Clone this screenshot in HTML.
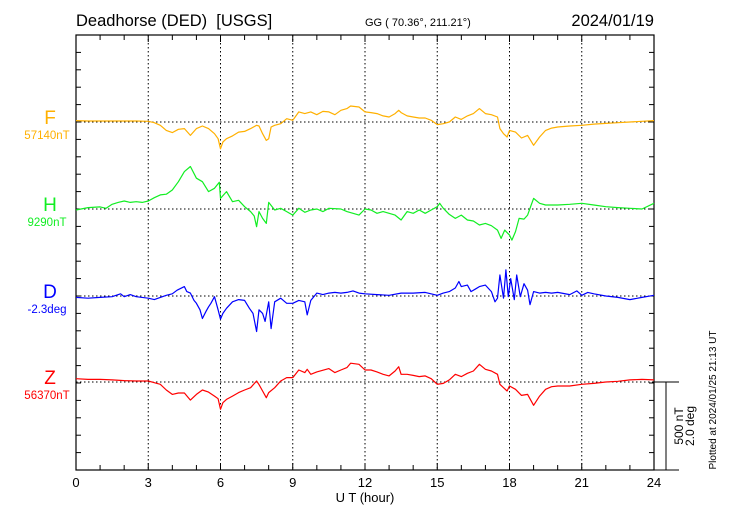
<!DOCTYPE html>
<html><head><meta charset="utf-8"><style>
body{margin:0;background:#fff}
svg{display:block;font-family:"Liberation Sans",sans-serif}
</style></head><body>
<svg id="chart" width="730" height="520"></svg>
<script>
const fT=[0,0.5,1,1.5,2,2.5,3,3.25,3.5,3.75,4,4.25,4.5,4.75,5,5.25,5.5,5.75,5.9,6,6.1,6.25,6.5,6.75,7,7.25,7.5,7.6,7.75,7.9,8,8.1,8.25,8.5,8.75,9,9.25,9.5,9.75,10,10.25,10.5,10.75,11,11.25,11.4,11.75,12,12.25,12.5,12.75,13,13.25,13.4,13.5,13.75,14,14.25,14.5,14.75,15,15.25,15.5,15.75,16,16.25,16.5,16.75,17,17.25,17.5,17.6,17.75,17.9,18,18.25,18.5,18.75,19,19.25,19.5,19.75,20,20.5,21,21.5,22,22.5,23,23.5,24];
const fV=[8,6,6,6,6,6,4,-4,-19,-48,-61,-42,-38,-77,-38,-23,-38,-67,-96,-154,-115,-96,-80,-58,-54,-38,-19,-23,-67,-106,-96,-29,-19,-10,19,10,58,48,58,42,61,58,42,67,77,92,86,58,54,48,35,29,48,67,54,35,29,23,23,10,-15,-10,0,29,15,35,48,77,48,42,29,-38,-67,-86,-48,-58,-92,-77,-134,-86,-48,-35,-29,-23,-19,-12,-8,-4,0,4,8];
const hT=[0,0.5,1,1.25,1.5,1.75,2,2.25,2.5,2.75,3,3.25,3.5,3.75,4,4.25,4.5,4.75,5,5.25,5.5,5.75,5.95,6,6.25,6.5,6.75,7,7.25,7.4,7.5,7.6,7.75,7.9,8,8.25,8.5,8.75,9,9.25,9.5,9.75,10,10.25,10.5,11,11.25,11.5,11.75,12,12.25,12.5,12.75,13,13.25,13.5,13.75,14,14.25,14.5,14.75,15,15.1,15.25,15.5,15.75,16,16.25,16.5,16.75,17,17.25,17.5,17.65,17.8,18,18.1,18.25,18.4,18.6,18.75,18.9,19,19.25,19.5,20,20.5,21,21.5,22,22.5,23,23.5,24];
const hV=[-6,8,12,4,27,38,46,38,42,38,46,65,81,85,109,157,215,244,177,157,100,119,154,61,100,42,50,13,-15,-40,-102,-15,-54,-83,38,-6,4,-15,-35,4,-19,-6,0,-15,4,0,-15,-25,-35,0,-6,-25,-15,-25,-35,-63,-15,-25,-6,-25,-6,13,33,4,-31,-54,-35,-63,-69,-92,-83,-96,-121,-169,-121,-150,-179,-130,-54,-58,-35,23,61,33,23,23,27,33,23,13,8,4,0,33];
const dT=[0,0.5,1,1.5,1.85,2,2.25,2.5,3,3.25,3.5,3.75,4,4.2,4.5,4.6,4.75,4.9,5,5.15,5.25,5.4,5.5,5.6,5.75,5.9,6,6.1,6.25,6.5,6.75,7,7.2,7.35,7.5,7.6,7.75,7.85,8,8.1,8.25,8.5,8.75,9,9.25,9.5,9.6,9.75,10,10.25,10.5,10.75,11,11.25,11.5,11.75,12,12.5,13,13.5,14,14.5,15,15.25,15.5,15.75,15.9,16,16.25,16.4,16.6,16.75,17,17.25,17.4,17.5,17.6,17.75,17.85,17.95,18.05,18.2,18.3,18.45,18.6,18.75,18.85,19,19.25,19.5,19.75,20,20.5,20.8,21,21.25,21.5,22,22.5,23,23.5,24];
const dV=[-2,-3,-2,-1,3,-1,2,-1,-3,-5,-2,1,3,8,13,6,4,-6,-10,-19,-31,-21,-15,-10,-1,-19,-32,-24,-17,-8,-5,-6,-17,-24,-49,-19,-24,-35,-8,-45,-8,-3,-10,-10,-6,-8,-26,-6,4,2,4,5,4,5,7,4,3,2,1,4,4,5,1,4,6,11,20,13,15,6,10,13,15,6,-8,-3,29,-3,36,-1,24,-5,29,-1,17,8,-12,6,4,5,4,5,2,7,1,5,3,0,-2,-5,-2,1];
const zT=[0,0.5,1,1.5,2,2.5,3,3.25,3.5,3.75,4,4.25,4.5,4.75,5,5.25,5.5,5.75,5.9,6,6.1,6.25,6.5,6.75,7,7.25,7.5,7.6,7.75,7.9,8,8.25,8.5,8.75,9,9.25,9.5,9.6,9.75,10,10.5,10.75,11,11.25,11.4,11.75,12,12.25,12.5,12.75,13,13.25,13.4,13.5,13.75,14,14.25,14.5,14.75,15,15.25,15.5,15.75,16,16.25,16.5,16.75,17,17.25,17.5,17.6,17.75,17.9,18,18.25,18.5,18.75,19,19.25,19.5,19.75,20,20.5,21,21.5,22,22.5,23,23.5,24];
const zV=[19,15,15,12,8,6,6,-4,-13,-46,-71,-63,-63,-104,-71,-46,-58,-81,-96,-157,-119,-100,-81,-61,-46,-33,6,-15,-52,-90,-61,-33,6,25,25,69,54,73,44,58,77,54,69,83,108,102,69,69,58,44,35,63,88,44,44,38,31,35,19,-13,-8,12,44,31,50,63,102,73,63,44,-13,-33,-52,-23,-42,-77,-71,-134,-81,-42,-27,-23,-23,-13,-8,0,4,12,15,12];
const xTicks=[0,3,6,9,12,15,18,21,24];

const svg=document.getElementById('chart');
const NS='http://www.w3.org/2000/svg';
const L=76,R=654,T=35,B=470;
const pxPerNT=87/500, pxPerMin=87/120;
const X=h=>L+(R-L)*h/24;
function mk(tag,attrs,parent){const e=document.createElementNS(NS,tag);for(const k in attrs)e.setAttribute(k,attrs[k]);(parent||svg).appendChild(e);return e;}
function txt(s,attrs){const e=mk('text',attrs);e.textContent=s;return e;}

xTicks.slice(1,-1).forEach(h=>{
  const g=mk('line',{x1:X(h),x2:X(h),y1:T,y2:B,stroke:'#000','stroke-width':1,'stroke-dasharray':'1.5,2.5'});
  
  
});
const bases=[{n:'F',y:122,c:'#ffb000',lab:'57140nT',t:fT,v:fV,s:pxPerNT},
 {n:'H',y:209,c:'#11ee22',lab:'9290nT',t:hT,v:hV,s:pxPerNT},
 {n:'D',y:296,c:'#0000ff',lab:'-2.3deg',t:dT,v:dV,s:pxPerMin},
 {n:'Z',y:382,c:'#ff0000',lab:'56370nT',t:zT,v:zV,s:pxPerNT}];
bases.forEach(b=>{
  const g=mk('line',{x1:L,x2:R,y1:b.y,y2:b.y,stroke:'#000','stroke-width':1,'stroke-dasharray':'1.5,2.5'});
  
  
});
const box=mk('rect',{x:L,y:T,width:R-L,height:B-T,fill:'none',stroke:'#000','stroke-width':1.2});


for(let h=0;h<=24;h++){
  const len=h%3===0?7:5;
  mk('line',{x1:X(h),x2:X(h),y1:T,y2:T+len,stroke:'#000'});
  mk('line',{x1:X(h),x2:X(h),y1:B,y2:B-len,stroke:'#000'});
}
for(let y=T;y<=B+1;y+=(B-T)/25){
  mk('line',{x1:L,x2:L+5,y1:y,y2:y,stroke:'#000'});
  mk('line',{x1:R,x2:R-5,y1:y,y2:y,stroke:'#000'});
}
xTicks.forEach(h=>{
  const t=txt(String(h),{x:X(h),y:487,'font-size':13,'text-anchor':'middle'});
  
  
});
bases.forEach(b=>{
  const d=b.t.map((h,i)=>(i?'L':'M')+X(h).toFixed(1)+','+(b.y-b.v[i]*b.s).toFixed(1)).join('');
  const p=mk('path',{d:d,fill:'none',stroke:b.c,'stroke-width':1.2,'stroke-linejoin':'round'});
  
  
  const a=txt(b.n,{x:50,y:b.y+2,'font-size':19,fill:b.c,'text-anchor':'middle'});
  
  
  const c=txt(b.lab,{x:47,y:b.y+17,'font-size':11.5,fill:b.c,'text-anchor':'middle'});
  
  
});
mk('line',{x1:R,x2:679,y1:382,y2:382,stroke:'#000'});
mk('line',{x1:R,x2:679,y1:470,y2:470,stroke:'#000'});
const sb=mk('line',{x1:666,x2:666,y1:382,y2:470,stroke:'#000'});


</script>
<svg width="730" height="520" style="position:absolute;left:0;top:0">
<text x="76" y="26" font-size="16.5" font-family="Liberation Sans,sans-serif">Deadhorse (DED)&#160; [USGS]</text>
<text x="365" y="26" font-size="11" font-family="Liberation Sans,sans-serif">GG ( 70.36°, 211.21°)</text>
<text x="654" y="26" font-size="16.5" text-anchor="end" font-family="Liberation Sans,sans-serif">2024/01/19</text>
<text x="365" y="502" font-size="13" text-anchor="middle" font-family="Liberation Sans,sans-serif">U T (hour)</text>
<text transform="translate(683,426) rotate(-90)" font-size="12" text-anchor="middle" font-family="Liberation Sans,sans-serif">500 nT</text>
<text transform="translate(694,426) rotate(-90)" font-size="12" text-anchor="middle" font-family="Liberation Sans,sans-serif">2.0 deg</text>
<text transform="translate(716,400) rotate(-90)" font-size="10" text-anchor="middle" font-family="Liberation Sans,sans-serif">Plotted at 2024/01/25 21:13 UT</text>
</svg>
</body></html>
